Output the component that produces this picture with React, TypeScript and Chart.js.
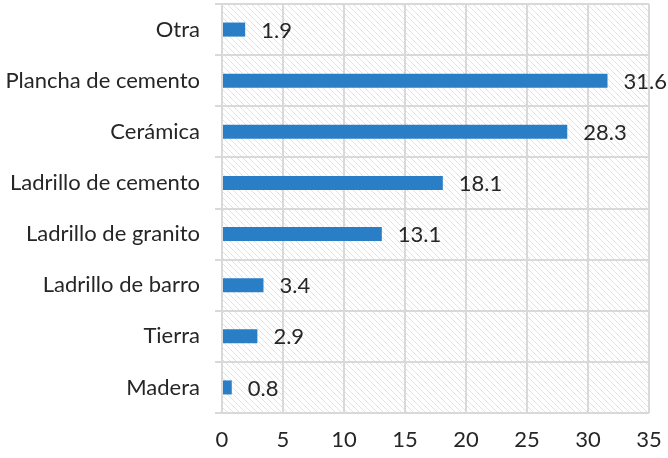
import React, { useEffect, useRef } from "react";
import { Chart, registerables } from "chart.js";

Chart.register(...registerables);

const categories = [
  "Otra",
  "Plancha de cemento",
  "Cerámica",
  "Ladrillo de cemento",
  "Ladrillo de granito",
  "Ladrillo de barro",
  "Tierra",
  "Madera",
];
const values = [1.9, 31.6, 28.3, 18.1, 13.1, 3.4, 2.9, 0.8];
const xTicks = [0, 5, 10, 15, 20, 25, 30, 35];

const FONT = "Lato, 'Open Sans', sans-serif";
const FONT_SIZE = 22;
const TEXT = "#262626";
const GRID = "#d9d9d9";
const BAR = "#2a7ec6";

const hatchPlugin = {
  id: "hatch",
  beforeDraw(chart: any) {
    const { ctx, chartArea } = chart;
    const { left, top, right, bottom } = chartArea;
    ctx.save();
    ctx.beginPath();
    ctx.rect(left, top, right - left, bottom - top);
    ctx.clip();
    ctx.strokeStyle = "#e3e3e3";
    ctx.lineWidth = 1;
    const h = bottom - top;
    const step = 6;
    ctx.beginPath();
    for (let x = left - h; x < right; x += step) {
      ctx.moveTo(x, top);
      ctx.lineTo(x + h, bottom);
    }
    ctx.stroke();
    ctx.restore();
  },
};

const labelPlugin = {
  id: "barLabels",
  afterDatasetsDraw(chart: any) {
    const { ctx } = chart;
    const meta = chart.getDatasetMeta(0);
    ctx.save();
    ctx.font = `${FONT_SIZE}px ${FONT}`;
    ctx.fillStyle = TEXT;
    ctx.textAlign = "left";
    ctx.textBaseline = "middle";
    meta.data.forEach((el: any, i: number) => {
      ctx.fillText(values[i].toFixed(1), el.x + 16, el.y + 1);
    });
    ctx.restore();
  },
};

export default function App() {
  const ref = useRef<HTMLCanvasElement>(null);
  useEffect(() => {
    document.body.style.margin = "0";
    const chart = new Chart(ref.current!, {
      type: "bar",
      data: {
        labels: categories,
        datasets: [
          {
            data: values,
            backgroundColor: BAR,
            barPercentage: 0.55,
            categoryPercentage: 0.5,
          },
        ],
      },
      options: {
        indexAxis: "y",
        animation: false,
        responsive: false,
        layout: { padding: { top: 4, right: 19, bottom: 0, left: 0 } },
        plugins: { legend: { display: false }, tooltip: { enabled: false } },
        scales: {
          x: {
            min: 0,
            max: 35,
            afterBuildTicks(scale: any) {
              scale.ticks = xTicks.map((v) => ({ value: v }));
            },
            afterFit(scale: any) {
              scale.height = 45;
              scale.paddingLeft = 0;
              scale.paddingRight = 0;
            },
            grid: { color: GRID, lineWidth: 2, drawTicks: false },
            border: { display: false },
            ticks: {
              color: TEXT,
              font: { family: FONT, size: FONT_SIZE },
              padding: 14,
            },
          },
          y: {
            afterFit(scale: any) {
              scale.width = 222;
              scale.paddingTop = 0;
              scale.paddingBottom = 0;
            },
            grid: {
              color: GRID,
              lineWidth: 2,
              offset: true,
              drawTicks: true,
              tickLength: 7,
            },
            border: { display: false },
            ticks: {
              color: TEXT,
              font: { family: FONT, size: FONT_SIZE },
              padding: 15,
            },
          },
        },
      },
      plugins: [hatchPlugin, labelPlugin],
    });
    return () => chart.destroy();
  }, []);
  return <canvas ref={ref} width={668} height={458} style={{ display: "block" }} />;
}
